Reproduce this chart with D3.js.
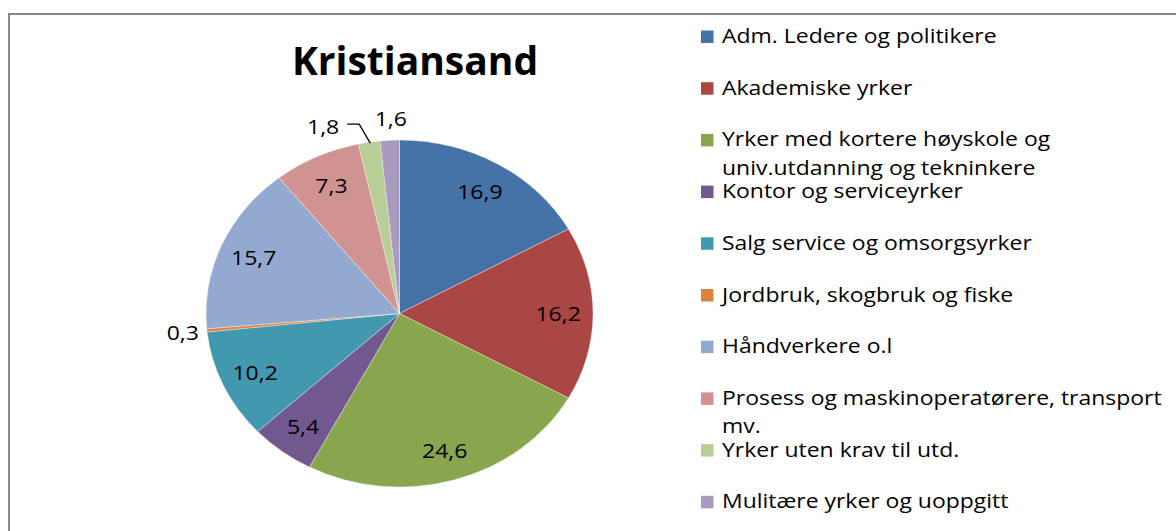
<!DOCTYPE html>
<html>
<head>
<meta charset="utf-8">
<script src="https://cdn.jsdelivr.net/npm/d3@7"></script>
<style>
  html, body { margin: 0; padding: 0; background: #fff; }
  svg { display: block; }
</style>
</head>
<body>
<svg id="chart" width="1176" height="531"></svg>
<script>
// Occupational distribution, Kristiansand (percent)
const chartTitle = "Kristiansand";
const categories = [
  "Adm. Ledere og politikere",
  "Akademiske yrker",
  "Yrker med kortere høyskole og\nuniv.utdanning og tekninkere",
  "Kontor og serviceyrker",
  "Salg service og omsorgsyrker",
  "Jordbruk, skogbruk og fiske",
  "Håndverkere o.l",
  "Prosess og maskinoperatørere, transport\nmv.",
  "Yrker uten krav til utd.",
  "Mulitære yrker og uoppgitt"
];
const values = [16.9, 16.2, 24.6, 5.4, 10.2, 0.3, 15.7, 7.3, 1.8, 1.6];
const colors = ["#4572A7", "#AA4643", "#89A54E", "#71588F", "#4198AF",
                "#DB843D", "#93A9CF", "#D19392", "#B9CD96", "#A99BBD"];

const svg = d3.select("#chart");
const W = 1176, H = 531;
const fmt = v => String(v).replace(".", ",");

// chart area frame (runs off the right and bottom edges)
svg.append("rect")
  .attr("x", 9).attr("y", 14)
  .attr("width", W + 20).attr("height", H + 20)
  .attr("fill", "#fff")
  .attr("stroke", "#878787").attr("stroke-width", 2);

// title
svg.append("text")
  .attr("x", 415).attr("y", 75)
  .attr("text-anchor", "middle")
  .attr("font-family", "'Open Sans', sans-serif")
  .attr("font-weight", "bold")
  .attr("font-size", 39)
  .attr("fill", "#000")
  .text(chartTitle);

// pie (drawn as a slightly wide ellipse)
const cx = 399.5, cy = 313.5, rx = 193.5, ry = 173.5;
const pie = d3.pie().sort(null).value(d => d.v).startAngle(0).endAngle(2 * Math.PI);
const arcs = pie(values.map((v, i) => ({ v, i })));
const arc = d3.arc().innerRadius(0).outerRadius(ry);
const color = d3.scaleOrdinal().domain(d3.range(categories.length)).range(colors);

const pieG = svg.append("g")
  .attr("transform", `translate(${cx},${cy}) scale(${rx / ry},1)`);
pieG.selectAll("path")
  .data(arcs)
  .join("path")
  .attr("d", arc)
  .attr("fill", d => color(d.data.i))
  .attr("stroke", "rgba(255,255,255,0.45)")
  .attr("stroke-width", 0.8)
  .attr("vector-effect", "non-scaling-stroke");

// point on the ellipse at angle a (clockwise from 12 o'clock), fraction f of the radius
const ept = (a, f) => [cx + f * rx * Math.sin(a), cy - f * ry * Math.cos(a)];
const mid = d => (d.startAngle + d.endAngle) / 2;

// text placed at (x, y) and widened horizontally by sx
function wideText(parent, x, y, sx) {
  return parent.append("text")
    .attr("transform", `translate(${x},${y}) scale(${sx},1)`)
    .attr("x", 0).attr("y", 0);
}

const labelSX = 1.15;
const labels = svg.append("g")
  .attr("font-family", "'Open Sans', sans-serif")
  .attr("font-size", 20)
  .attr("fill", "#000");

arcs.forEach(d => {
  const a = mid(d);
  const txt = fmt(d.data.v);
  if (d.data.v >= 5) {
    const [x, y] = ept(a, 0.82);
    wideText(labels, x, y, labelSX)
      .attr("text-anchor", "middle")
      .attr("dominant-baseline", "central")
      .text(txt);
  } else {
    const [ex, ey] = ept(a, 1);
    if (d.index === 5) {
      // small slice on the left side
      wideText(labels, ex - 8, ey + 2, labelSX)
        .attr("text-anchor", "end")
        .attr("dominant-baseline", "central")
        .text(txt);
    } else if (d.index === 8) {
      // label pulled left with a leader line
      const ly = ey - 18;
      svg.append("polyline")
        .attr("points", [[ex + 1, ey + 1], [ex - 10, ly], [ex - 22, ly]].map(p => p.join(",")).join(" "))
        .attr("fill", "none")
        .attr("stroke", "#000")
        .attr("stroke-width", 1.3);
      wideText(labels, ex - 30, ly + 2, labelSX)
        .attr("text-anchor", "end")
        .attr("dominant-baseline", "central")
        .text(txt);
    } else {
      wideText(labels, ex + 1, ey - 14, labelSX)
        .attr("text-anchor", "middle")
        .text(txt);
    }
  }
});

// legend
const legX = 701, legY0 = 43, legStep = 51.7, lineH = 28.5, legSX = 1.12;
const leg = svg.append("g")
  .attr("font-family", "'Open Sans', sans-serif")
  .attr("font-size", 20.5)
  .attr("fill", "#000");
categories.forEach((c, i) => {
  const y = legY0 + i * legStep;
  leg.append("rect")
    .attr("x", legX).attr("y", y - 12.5)
    .attr("width", 12.5).attr("height", 12.5)
    .attr("fill", color(i));
  const t = wideText(leg, legX + 21, y, legSX);
  c.split("\n").forEach((line, k) => {
    t.append("tspan")
      .attr("x", 0)
      .attr("dy", k === 0 ? 0 : lineH)
      .text(line);
  });
});
</script>
</body>
</html>
